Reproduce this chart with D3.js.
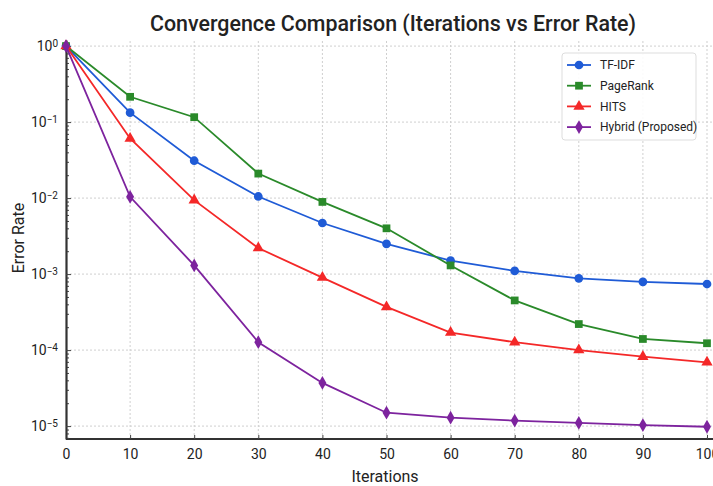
<!DOCTYPE html>
<html>
<head>
<meta charset="utf-8">
<script src="https://cdn.jsdelivr.net/npm/d3@7"></script>
<style>
  body { margin: 0; background: #fff; }
  text { font-family: Roboto, "Liberation Sans", Arial, sans-serif; fill: #222; }
</style>
</head>
<body>
<svg id="chart" width="713" height="486"></svg>
<script>
const iterations = [0, 10, 20, 30, 40, 50, 60, 70, 80, 90, 100];
const tfidf    = [1, 0.133, 0.031, 0.0105, 0.0047, 0.0025, 0.0015, 0.0011, 0.00088, 0.00079, 0.00074];
const pagerank = [1, 0.215, 0.116, 0.021, 0.0089, 0.004, 0.0013, 0.00045, 0.00022, 0.00014, 0.000123];
const hits     = [1, 0.061, 0.0094, 0.0022, 0.0009, 0.00037, 0.00017, 0.000127, 0.0001, 0.000082, 0.000069];
const hybrid   = [1, 0.0104, 0.0013, 0.000127, 0.000037, 0.000015, 0.0000129, 0.0000118, 0.000011, 0.0000103, 0.0000098];
const yTicks = [1, 1e-1, 1e-2, 1e-3, 1e-4, 1e-5];
const xTicks = [0, 10, 20, 30, 40, 50, 60, 70, 80, 90, 100];

const series = [
  { name: "TF-IDF", values: tfidf, color: "#1f5bd6", marker: "circle" },
  { name: "PageRank", values: pagerank, color: "#2a8a2a", marker: "square" },
  { name: "HITS", values: hits, color: "#f42828", marker: "triangle" },
  { name: "Hybrid (Proposed)", values: hybrid, color: "#7d239e", marker: "diamond" }
];

const svg = d3.select("#chart");
const margin = { left: 66, right: 6, top: 40, bottom: 47 };
const width = 713, height = 486;

const x = d3.scaleLinear().domain([0, 100]).range([margin.left, 707]);
const y = d3.scaleLog().domain([10 ** -5.17, 10 ** 0.08]).range([height - margin.bottom, margin.top]);

// title
svg.append("text")
  .attr("x", 393).attr("y", 31)
  .attr("text-anchor", "middle")
  .attr("font-size", 22).attr("font-weight", 500)
  .attr("textLength", 486).attr("lengthAdjust", "spacingAndGlyphs")
  .text("Convergence Comparison (Iterations vs Error Rate)");

// grid
const grid = svg.append("g").attr("stroke", "#cfcfcf").attr("stroke-dasharray", "2,2").attr("stroke-width", 1);
grid.selectAll(".gx").data(xTicks.slice(1)).join("line")
  .attr("x1", d => x(d)).attr("x2", d => x(d))
  .attr("y1", y.range()[0]).attr("y2", y.range()[1]);
grid.selectAll(".gy").data(yTicks).join("line")
  .attr("x1", margin.left).attr("x2", width)
  .attr("y1", d => y(d)).attr("y2", d => y(d));

// x axis
const xAxis = svg.append("g")
  .attr("transform", `translate(0,${y.range()[0]})`)
  .call(d3.axisBottom(x).tickValues(xTicks).tickSizeInner(-4).tickSizeOuter(0).tickPadding(10));
xAxis.select(".domain").attr("stroke", "#333").attr("stroke-width", 2.2).attr("d", `M${margin.left},0H${width}`);
xAxis.selectAll(".tick line").attr("stroke", "#444");
xAxis.selectAll(".tick text").attr("font-size", 14).attr("fill", "#333");

// y axis with minor ticks
const minor = [];
for (let e = -6; e <= 0; e++) for (let m = 2; m <= 9; m++) {
  const v = m * 10 ** e;
  if (v >= y.domain()[0] && v <= y.domain()[1]) minor.push(v);
}
const yAxisG = svg.append("g").attr("transform", `translate(${margin.left},0)`);
yAxisG.append("g")
  .call(d3.axisLeft(y).tickValues(minor).tickSize(-3).tickFormat(""))
  .call(g => g.select(".domain").remove())
  .selectAll(".tick line").attr("stroke", "#444");
const yMajor = yAxisG.append("g")
  .call(d3.axisLeft(y).tickValues(yTicks).tickSizeInner(-5).tickSizeOuter(0).tickFormat(""));
yMajor.select(".domain").attr("stroke", "#333").attr("stroke-width", 2.2);
yMajor.selectAll(".tick line").attr("stroke", "#444");
yMajor.selectAll(".tick").each(function(d) {
  const t = d3.select(this).append("text")
    .attr("x", -8).attr("dy", "0.35em")
    .attr("text-anchor", "end").attr("font-size", 14).attr("fill", "#333");
  t.append("tspan").text("10");
  t.append("tspan").attr("dy", "-0.45em").attr("font-size", 10).text(String(Math.round(Math.log10(d))).replace("-", "\u2212"));
});

// axis titles
svg.append("text")
  .attr("x", 385).attr("y", 482)
  .attr("text-anchor", "middle").attr("font-size", 16)
  .text("Iterations");
svg.append("text")
  .attr("transform", "translate(24,238) rotate(-90)")
  .attr("text-anchor", "middle").attr("font-size", 16)
  .text("Error Rate");

// markers
const symbols = {
  circle: d3.symbol(d3.symbolCircle, 60),
  square: d3.symbol(d3.symbolSquare, 60),
  triangle: d3.symbol(d3.symbolTriangle, 55),
  diamond: d3.symbol(d3.symbolDiamond, 55)
};

const line = d3.line().x((d, i) => x(iterations[i])).y(d => y(d));
const plot = svg.append("g");
series.forEach(s => {
  plot.append("path")
    .attr("d", line(s.values))
    .attr("fill", "none").attr("stroke", s.color).attr("stroke-width", 1.8);
  plot.selectAll(null).data(s.values).join("path")
    .attr("transform", (d, i) => `translate(${x(iterations[i])},${y(d)})`)
    .attr("d", symbols[s.marker]())
    .attr("fill", s.color);
});

// legend
const legend = svg.append("g").attr("transform", "translate(562,53)");
legend.append("rect")
  .attr("width", 134).attr("height", 87).attr("rx", 3)
  .attr("fill", "#fff").attr("fill-opacity", 0.9).attr("stroke", "#ddd");
series.forEach((s, i) => {
  const gy = 12 + i * 20.7;
  legend.append("line").attr("x1", 5).attr("x2", 29).attr("y1", gy).attr("y2", gy)
    .attr("stroke", s.color).attr("stroke-width", 1.8);
  legend.append("path").attr("transform", `translate(17,${gy})`)
    .attr("d", symbols[s.marker]()).attr("fill", s.color);
  legend.append("text").attr("x", 38).attr("y", gy).attr("dy", "0.35em")
    .attr("font-size", 12).text(s.name);
});
</script>
</body>
</html>
